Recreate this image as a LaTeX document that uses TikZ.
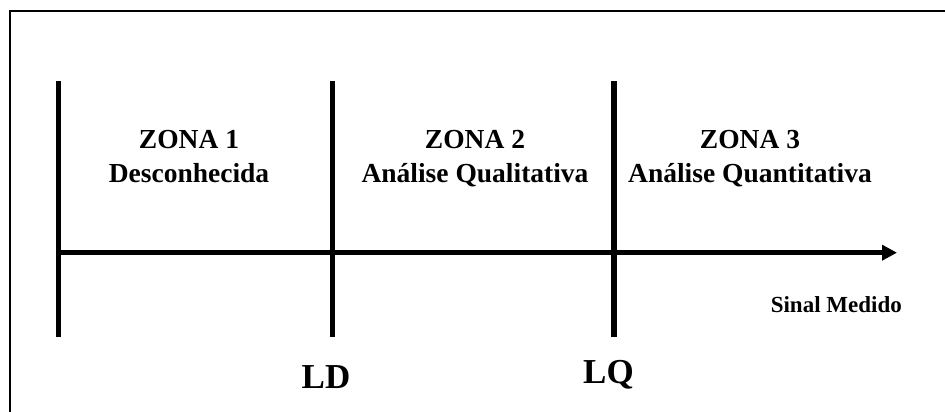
\documentclass[tikz,border=0pt]{standalone}
\usepackage{fontspec}
\setmainfont{Liberation Serif}
\usetikzlibrary{arrows.meta}
\begin{document}
\begin{tikzpicture}[x=1pt,y=-1pt,
  frame/.style={line width=2pt,black},
  divider/.style={line width=5.5pt,black},
  axisline/.style={line width=5pt,black,-{Triangle[length=15pt,width=15pt]}},
  zonetext/.style={inner sep=0pt,font=\bfseries\fontsize{27.5}{33}\selectfont},
  limittext/.style={inner sep=0pt,font=\bfseries\fontsize{35}{40}\selectfont},
  axistext/.style={inner sep=0pt,font=\bfseries\fontsize{23}{28}\selectfont}]
\useasboundingbox (0,0) rectangle (945,412);
% outer frame (top and left edges)
\coordinate (fbl) at (10,412);
\coordinate (ftl) at (10,11);
\coordinate (ftr) at (945,11);
\draw[frame] (fbl) -- (ftl) -- (ftr);
% vertical dividers
\coordinate (d0t) at (58.3,81.5);  \coordinate (d0b) at (58.3,337);
\coordinate (d1t) at (332.3,81.5); \coordinate (d1b) at (332.3,337);
\coordinate (d2t) at (614,81.5);   \coordinate (d2b) at (614,337);
\draw[divider] (d0t) -- (d0b);
\draw[divider] (d1t) -- (d1b);
\draw[divider] (d2t) -- (d2b);
% measured-signal axis
\coordinate (axstart) at (58.3,252.7);
\coordinate (axend) at (897,252.7);
\draw[axisline] (axstart) -- (axend);
% zone labels
\node[zonetext,anchor=base] (z1a) at (189,148) {ZONA 1};
\node[zonetext,anchor=base] (z1b) at (189,182) {Desconhecida};
\node[zonetext,anchor=base] (z2a) at (475,148) {ZONA 2};
\node[zonetext,anchor=base] (z2b) at (475,182) {Análise Qualitativa};
\node[zonetext,anchor=base] (z3a) at (750,148) {ZONA 3};
\node[zonetext,anchor=base] (z3b) at (750,182) {Análise Quantitativa};
% axis label
\node[axistext,anchor=base east] (sig) at (902,312) {Sinal Medido};
% limit labels
\node[limittext,anchor=base] (ld) at (326,388) {LD};
\node[limittext,anchor=base] (lq) at (608.5,383) {LQ};
\end{tikzpicture}
\end{document}
